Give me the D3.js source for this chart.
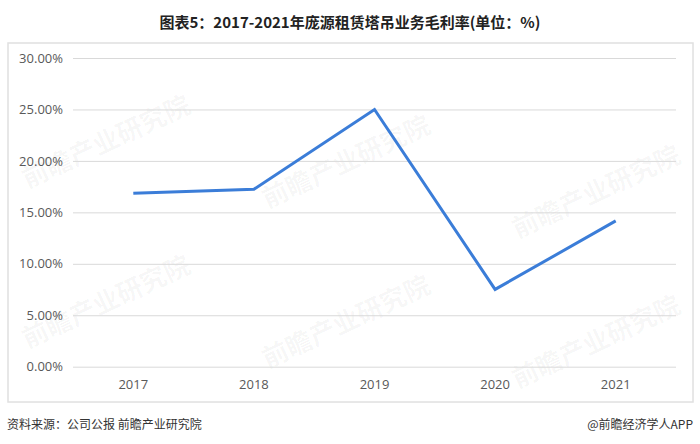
<!DOCTYPE html>
<html><head><meta charset="utf-8">
<script src="https://cdn.jsdelivr.net/npm/d3@7"></script>
<style>
body{margin:0;background:#fff;}
svg{display:block;font-family:"Noto Sans CJK SC","Microsoft YaHei",sans-serif;}
</style></head>
<body><svg id="c" width="700" height="444"></svg>
<script>
const years = ["2017","2018","2019","2020","2021"];
const margins = [16.86, 17.24, 25.0, 7.51, 14.17];
const yTicks = [0, 5, 10, 15, 20, 25, 30];
const titleText = "图表5：2017-2021年庞源租赁塔吊业务毛利率(单位：%)";
const sourceText = "资料来源：公司公报 前瞻产业研究院";
const creditText = "@前瞻经济学人APP";

const svg = d3.select("#c");
const W = 700, H = 444;
const plot = {left: 73, right: 676, top: 58, bottom: 366.7};

svg.append("rect").attr("width", W).attr("height", H).attr("fill", "#fff");

svg.append("text").attr("x", 350).attr("y", 28).attr("text-anchor", "middle")
  .attr("font-size", 15).attr("font-weight", "bold").attr("fill", "#222").text(titleText);

svg.append("rect").attr("x", 8).attr("y", 43).attr("width", 685).attr("height", 359)
  .attr("fill", "none").attr("stroke", "#e0e0e0").attr("stroke-width", 1.5);

// watermarks
const wm = [[110,150],[350,170],[600,200],[110,310],[350,330],[600,350]];
wm.forEach(([x,y]) => {
  svg.append("text").attr("transform", `translate(${x},${y}) rotate(-25)`)
    .attr("text-anchor", "middle").attr("font-size", 26).attr("font-weight", "bold")
    .attr("fill", "#000").attr("fill-opacity", 0.04).text("前瞻产业研究院");
});

const x = d3.scaleBand().domain(years).range([plot.left, plot.right]);
const y = d3.scaleLinear().domain([0, 30]).range([plot.bottom, plot.top]);

const yAxis = d3.axisLeft(y).tickValues(yTicks).tickSize(-(plot.right - plot.left))
  .tickPadding(10).tickFormat(d => d.toFixed(2) + "%");
const gy = svg.append("g").attr("transform", `translate(${plot.left},0)`).call(yAxis);
gy.select(".domain").remove();
gy.selectAll("line").attr("stroke", "#d9d9d9").attr("stroke-width", 1);
gy.selectAll("text").attr("fill", "#595959").attr("font-size", 13)
  .attr("font-family", "'Open Sans','Noto Sans',sans-serif");

const xAxis = d3.axisBottom(x).tickSize(0).tickPadding(13);
const gx = svg.append("g").attr("transform", `translate(0,${plot.bottom})`).call(xAxis);
gx.select(".domain").remove();
gx.selectAll("text").attr("fill", "#595959").attr("font-size", 13)
  .attr("font-family", "'Open Sans','Noto Sans',sans-serif");

const line = d3.line().x((d, i) => x(years[i]) + x.bandwidth() / 2).y(d => y(d));
svg.append("path").datum(margins).attr("d", line).attr("fill", "none")
  .attr("stroke", "#3b7dd8").attr("stroke-width", 3).attr("stroke-linejoin", "miter");

svg.append("text").attr("x", 7).attr("y", 429).attr("font-size", 12).attr("fill", "#333").text(sourceText);
svg.append("text").attr("x", 693).attr("y", 429).attr("text-anchor", "end").attr("font-size", 12).attr("fill", "#333").text(creditText);
</script></body></html>
